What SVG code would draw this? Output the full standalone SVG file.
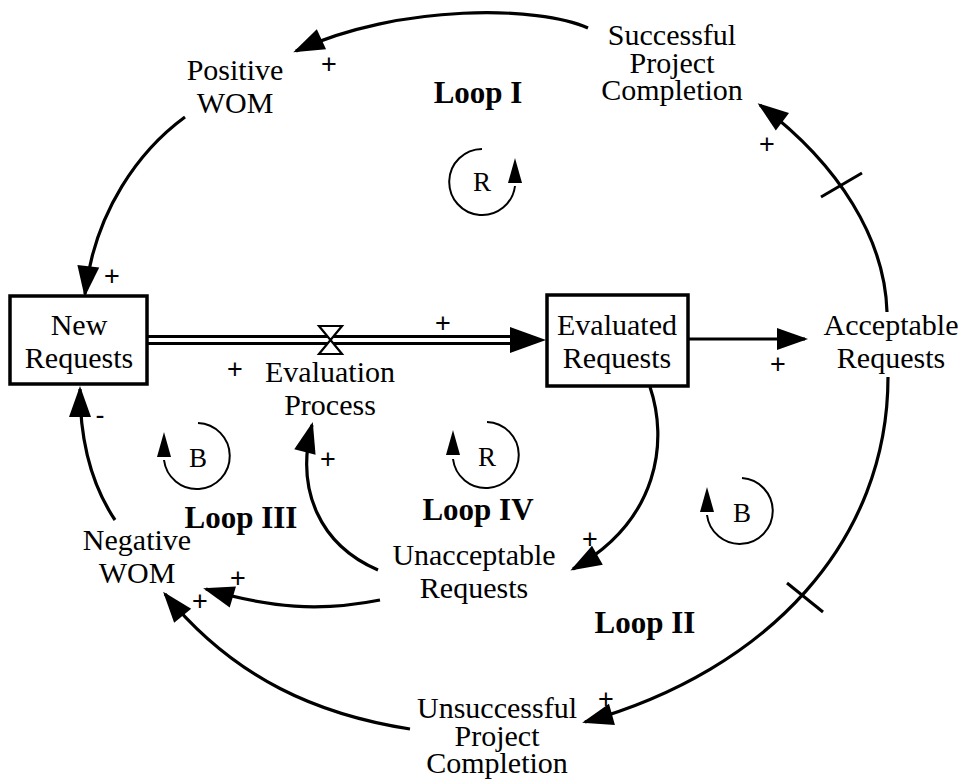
<svg xmlns="http://www.w3.org/2000/svg" width="964" height="781" viewBox="0 0 964 781">
  <style>
    .lbl { font-family: "Liberation Serif", "Times New Roman", serif; font-size: 30px; fill: #000; text-anchor: middle; }
    .loop { font-family: "Liberation Serif", "Times New Roman", serif; font-size: 31px; font-weight: bold; fill: #000; text-anchor: middle; }
    .sym { font-family: "Liberation Serif", "Times New Roman", serif; font-size: 27px; fill: #000; text-anchor: middle; }
    .pol { font-family: "Liberation Sans", Arial, sans-serif; font-size: 27px; fill: #000; text-anchor: middle; }
    .link { fill: none; stroke: #000; stroke-width: 3.2; }
    .stock { fill: #fff; stroke: #000; stroke-width: 3.5; }
    .ring { fill: none; stroke: #000; stroke-width: 2; }
    .tick { stroke: #000; stroke-width: 3; }
  </style>
  <defs>
    <marker id="head" markerUnits="userSpaceOnUse" markerWidth="40" markerHeight="30" viewBox="-30 -15 40 30" refX="0" refY="0" orient="auto">
      <path d="M3,0 L-28,-11 L-28,11 z" fill="#000"/>
    </marker>
  </defs>

  <!-- causal links -->
  <g id="connectors">
    <!-- Successful Project Completion -> Positive WOM -->
    <path class="link" d="M588 28 C540 6, 400 3, 296 51" marker-end="url(#head)"/>
    <!-- Positive WOM -> New Requests -->
    <path class="link" d="M185 117 C140 150, 95 210, 85 294" marker-end="url(#head)"/>
    <!-- Acceptable Requests -> Successful Project Completion (delayed) -->
    <path class="link" d="M887 312 C885 240, 840 165, 760 105" marker-end="url(#head)"/>
    <line class="tick" x1="821" y1="197" x2="862" y2="173"/>
    <!-- Acceptable Requests -> Unsuccessful Project Completion (delayed) -->
    <path class="link" d="M888 377 C888 540, 770 670, 585 722" marker-end="url(#head)"/>
    <line class="tick" x1="787" y1="583" x2="823" y2="612"/>
    <!-- Evaluated Requests -> Acceptable Requests -->
    <path class="link" d="M688 339 L805 339" marker-end="url(#head)"/>
    <!-- Evaluated Requests -> Unacceptable Requests -->
    <path class="link" d="M650 387 C668 440, 660 520, 573 569" marker-end="url(#head)"/>
    <!-- Unacceptable Requests -> Evaluation Process -->
    <path class="link" d="M378 570 C320 545, 295 490, 312 425" marker-end="url(#head)"/>
    <!-- Unacceptable Requests -> Negative WOM -->
    <path class="link" d="M380 600 C320 612, 270 608, 206 589" marker-end="url(#head)"/>
    <!-- Unsuccessful Project Completion -> Negative WOM -->
    <path class="link" d="M410 729 C320 715, 235 680, 165 594" marker-end="url(#head)"/>
    <!-- Negative WOM -> New Requests -->
    <path class="link" d="M115 520 C95 490, 80 450, 80 389" marker-end="url(#head)"/>

    <!-- material flow pipe with valve -->
    <g id="flow">
      <line x1="147" y1="336.5" x2="515" y2="336.5" stroke="#000" stroke-width="3"/>
      <line x1="147" y1="343.5" x2="515" y2="343.5" stroke="#000" stroke-width="3"/>
      <path d="M510 327 L546 340 L510 353 z" fill="#000"/>
      <path d="M319 326 L342 326 L330.5 340 L342 354 L319 354 L330.5 340 z" fill="#fff" stroke="#000" stroke-width="2.2"/>
    </g>
  </g>

  <!-- polarity signs -->
  <g id="polarities">
    <text class="pol" x="329" y="73">+</text>
    <text class="pol" x="112" y="285">+</text>
    <text class="pol" x="767" y="153">+</text>
    <text class="pol" x="778" y="373">+</text>
    <text class="pol" x="443" y="332">+</text>
    <text class="pol" x="235" y="378">+</text>
    <text class="pol" x="328" y="468">+</text>
    <text class="pol" x="590" y="548">+</text>
    <text class="pol" x="238" y="587">+</text>
    <text class="pol" x="200" y="610">+</text>
    <text class="pol" x="606" y="708">+</text>
    <text class="pol" x="100" y="424">-</text>
  </g>

  <!-- stocks -->
  <g id="new-requests">
    <rect class="stock" x="10" y="296" width="137" height="88"/>
    <text class="lbl" x="79" y="335">New</text>
    <text class="lbl" x="79" y="368">Requests</text>
  </g>
  <g id="evaluated-requests">
    <rect class="stock" x="547" y="295" width="141" height="91"/>
    <text class="lbl" x="617" y="335">Evaluated</text>
    <text class="lbl" x="617" y="368">Requests</text>
  </g>

  <!-- auxiliary variables -->
  <g id="positive-wom">
    <text class="lbl" x="235" y="80">Positive</text>
    <text class="lbl" x="235" y="113">WOM</text>
  </g>
  <g id="successful-completion">
    <text class="lbl" x="672" y="45">Successful</text>
    <text class="lbl" x="672" y="73">Project</text>
    <text class="lbl" x="672" y="100">Completion</text>
  </g>
  <g id="acceptable-requests">
    <text class="lbl" x="891" y="335">Acceptable</text>
    <text class="lbl" x="891" y="368">Requests</text>
  </g>
  <g id="evaluation-process">
    <text class="lbl" x="330" y="382">Evaluation</text>
    <text class="lbl" x="330" y="415">Process</text>
  </g>
  <g id="unacceptable-requests">
    <text class="lbl" x="474" y="565">Unacceptable</text>
    <text class="lbl" x="474" y="598">Requests</text>
  </g>
  <g id="negative-wom">
    <text class="lbl" x="137" y="550">Negative</text>
    <text class="lbl" x="137" y="583">WOM</text>
  </g>
  <g id="unsuccessful-completion">
    <text class="lbl" x="497" y="718">Unsuccessful</text>
    <text class="lbl" x="497" y="746">Project</text>
    <text class="lbl" x="497" y="773">Completion</text>
  </g>

  <!-- loop identifiers -->
  <g id="loop-1">
    <text class="loop" x="478" y="103">Loop I</text>
    <path class="ring" d="M482 149 A33 33 0 1 0 515 186"/>
    <path d="M515 158 L508 183 L522 183 z" fill="#000"/>
    <text class="sym" x="482" y="191">R</text>
  </g>
  <g id="loop-2">
    <text class="loop" x="645" y="633">Loop II</text>
    <path class="ring" d="M742 478 A33 33 0 1 1 707 515"/>
    <path d="M707 487 L700 512 L714 512 z" fill="#000"/>
    <text class="sym" x="742" y="522">B</text>
  </g>
  <g id="loop-3">
    <text class="loop" x="241" y="528">Loop III</text>
    <path class="ring" d="M198 423 A33 33 0 1 1 164 460"/>
    <path d="M164 432 L157 457 L171 457 z" fill="#000"/>
    <text class="sym" x="198" y="467">B</text>
  </g>
  <g id="loop-4">
    <text class="loop" x="478" y="520">Loop IV</text>
    <path class="ring" d="M487 422 A33 33 0 1 1 453 459"/>
    <path d="M453 430 L446 455 L460 455 z" fill="#000"/>
    <text class="sym" x="487" y="466">R</text>
  </g>
</svg>
